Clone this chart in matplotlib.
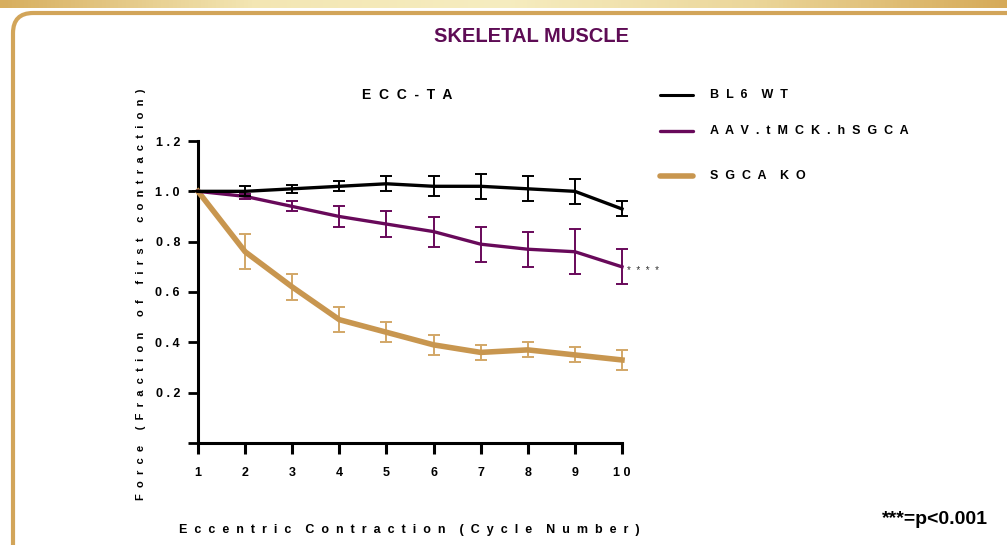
import matplotlib
matplotlib.use("Agg")
import matplotlib.pyplot as plt
import numpy as np
from matplotlib.patches import FancyBboxPatch
from matplotlib.lines import Line2D

cycles = [1, 2, 3, 4, 5, 6, 7, 8, 9, 10]
wt_mean = [1.0, 1.0, 1.01, 1.02, 1.03, 1.02, 1.02, 1.01, 1.0, 0.93]
wt_err = [0.0, 0.02, 0.015, 0.02, 0.03, 0.04, 0.05, 0.05, 0.05, 0.03]
aav_mean = [1.0, 0.98, 0.94, 0.90, 0.87, 0.84, 0.79, 0.77, 0.76, 0.70]
aav_err = [0.0, 0.01, 0.02, 0.04, 0.05, 0.06, 0.07, 0.07, 0.09, 0.07]
ko_mean = [1.0, 0.76, 0.62, 0.49, 0.44, 0.39, 0.36, 0.37, 0.35, 0.33]
ko_err = [0.0, 0.07, 0.05, 0.05, 0.04, 0.04, 0.03, 0.03, 0.03, 0.04]
series_names = ["BL6 WT", "AAV.tMCK.hSGCA", "SGCA KO"]
y_ticks = [0.0, 0.2, 0.4, 0.6, 0.8, 1.0, 1.2]
y_ticklabels = ["", "0 . 2", "0 . 4", "0 . 6", "0 . 8", "1 . 0", "1 . 2"]
x_ticklabels = ["1", "2", "3", "4", "5", "6", "7", "8", "9", "1 0"]


def spaced(s, letter_gap="  ", word_gap="    "):
    """Widen letter spacing the way the reference renders its labels."""
    return word_gap.join(letter_gap.join(w) for w in s.split(" "))


BLACK = "#000000"
PURPLE = "#68095A"
GOLD = "#C8964F"
GOLD_ERR = "#D2A767"
TITLE_PURPLE = "#5E0C55"
FONT = "Liberation Sans"

W, H = 1007, 545
fig = plt.figure(figsize=(W / 100, H / 100), dpi=100)
fig.patch.set_facecolor("white")

# decorative top gradient band
grad = np.linspace(0, 1, 256)
cmap = matplotlib.colors.LinearSegmentedColormap.from_list(
    "band", ["#D7AE5E", "#F3E6B3", "#F6EDC0", "#EBD69A", "#D6AA58"])
band_ax = fig.add_axes([0, 1 - 8 / H, 1, 8 / H])
band_ax.imshow(grad[None, :], aspect="auto", cmap=cmap, extent=[0, 1, 0, 1])
band_ax.set_axis_off()

# frame border (rounded)
frame = FancyBboxPatch((13 / W, -0.2), 1.2, (H - 13) / H + 0.2,
                       boxstyle="round,pad=0,rounding_size=0.02",
                       transform=fig.transFigure, fill=False,
                       edgecolor="#D2A55A", linewidth=3, mutation_aspect=W / H)
fig.add_artist(frame)

# main axes
ax = fig.add_axes([198 / W, (H - 443) / H, (622 - 198) / W, (443 - 141) / H])
ax.set_xlim(1, 10)
ax.set_ylim(0, 1.2)
ax.set_facecolor("none")

ek = dict(capsize=4.5, elinewidth=1.4, capthick=1.4)
ax.errorbar(cycles, ko_mean, yerr=ko_err, color=GOLD, ecolor=GOLD_ERR, lw=4.0,
            zorder=3, clip_on=False, **ek)
ax.errorbar(cycles, aav_mean, yerr=aav_err, color=PURPLE, ecolor=PURPLE, lw=2.4,
            zorder=4, clip_on=False, **ek)
ax.errorbar(cycles, wt_mean, yerr=wt_err, color=BLACK, ecolor=BLACK, lw=2.4,
            zorder=5, clip_on=False, **ek)

ax.text(10.1, aav_mean[-1] - 0.015, spaced("****"), fontsize=7, ha="left",
        va="center", color="#333333", family=FONT)

for s in ["top", "right"]:
    ax.spines[s].set_visible(False)
for s in ["left", "bottom"]:
    ax.spines[s].set_linewidth(2.2)
ax.spines["bottom"].set_bounds(1, 10)

ax.set_yticks(y_ticks)
ax.set_yticklabels(y_ticklabels, fontsize=9, fontweight="bold", family=FONT)
ax.set_xticks(cycles)
ax.set_xticklabels(x_ticklabels, fontsize=9, fontweight="bold", family=FONT)
ax.set_xticks(np.arange(1, 10.01, 0.2), minor=True)
ax.tick_params(axis="y", length=7, width=2, pad=6)
ax.tick_params(axis="x", which="major", length=8, width=2.2, pad=9)
ax.tick_params(axis="x", which="minor", length=2, width=1, direction="inout")

fig.text(407 / W, 1 - 95 / H, spaced("ECC-TA"), fontsize=10, fontweight="bold",
         family=FONT, ha="center", va="center")

fig.text(409 / W, 1 - 530 / H, spaced("Eccentric Contraction (Cycle Number)"),
         fontsize=9, fontweight="bold", family=FONT, ha="center", va="center")
fig.text(141 / W, 1 - 294 / H,
         spaced("Force (Fraction of first contraction)", word_gap="     "),
         fontsize=8, fontweight="bold", family=FONT, ha="center", va="center",
         rotation=90)

# top title
fig.text(531 / W, 1 - 36 / H, "SKELETAL MUSCLE", fontsize=14.5, fontweight="bold",
         family=FONT, color=TITLE_PURPLE, ha="center", va="center")

# legend
leg_y = [95, 131, 176]
leg_c = [BLACK, PURPLE, GOLD]
leg_w = [2.2, 2.4, 4.0]
for yy, cc, ww, nm in zip(leg_y, leg_c, leg_w, series_names):
    fig.add_artist(Line2D([660 / W, 693 / W], [1 - yy / H, 1 - yy / H],
                          color=cc, lw=ww, transform=fig.transFigure,
                          solid_capstyle="round"))
    fig.text(710 / W, 1 - yy / H, spaced(nm), fontsize=9, fontweight="bold",
             family=FONT, ha="left", va="center")

fig.text(935 / W, 1 - 520 / H, "***=p<0.001", fontsize=14, fontweight="bold",
         family=FONT, ha="center", va="center")

fig.savefig("out.png", dpi=100, facecolor="white")
